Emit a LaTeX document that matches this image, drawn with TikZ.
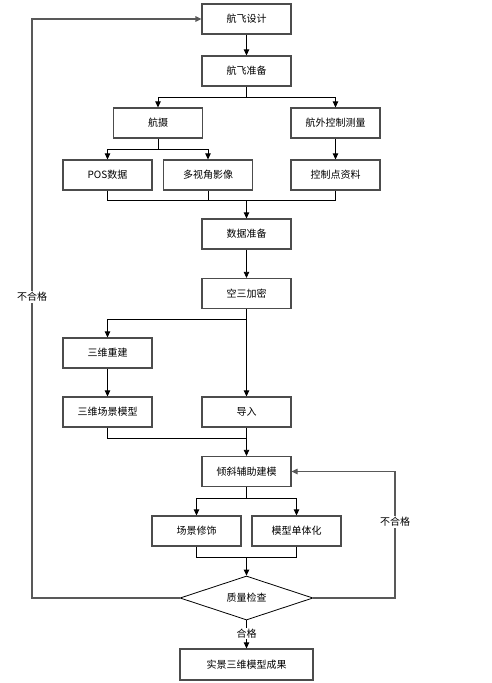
\documentclass[tikz,border=0pt]{standalone}
\usepackage{fontspec}
\setmainfont{Noto Sans CJK SC}
\usetikzlibrary{arrows.meta,shapes.geometric}
\begin{document}
\begin{tikzpicture}[x=1pt,y=-1pt,
  box/.style={draw=black!70,line width=1.2pt,fill=white,minimum width=89pt,minimum height=30pt,inner sep=0pt,font=\fontsize{10}{12}\selectfont},
  dia/.style={draw=black,line width=0.8pt,diamond,aspect=3,minimum width=133pt,minimum height=44pt,inner sep=0pt,font=\fontsize{10}{12}\selectfont},
  conn/.style={draw=black,line width=0.8pt},
  arr/.style={conn,-{Triangle[width=5.5pt,length=6pt]}},
  back/.style={draw=black!65,line width=1.2pt,-{Triangle[width=5.5pt,length=6pt]}},
  lbl/.style={fill=white,inner sep=1pt,font=\fontsize{10}{12}\selectfont}]
\useasboundingbox (0,0) rectangle (491,683);
\node[box] (a) at (246.5,19) {航飞设计};
\node[box] (b) at (246.5,71) {航飞准备};
\node[box] (c) at (158,123) {航摄};
\node[box] (d) at (335.5,123) {航外控制测量};
\node[box] (e) at (107.5,175) {POS数据};
\node[box] (f) at (208,175) {多视角影像};
\node[box] (g) at (335.5,175) {控制点资料};
\node[box] (h) at (246.5,234) {数据准备};
\node[box] (i) at (246.5,293.5) {空三加密};
\node[box] (j) at (107.5,353) {三维重建};
\node[box] (k) at (107.5,412) {三维场景模型};
\node[box] (l) at (246.5,412) {导入};
\node[box] (m) at (246.5,471.5) {倾斜辅助建模};
\node[box] (n) at (196.5,531) {场景修饰};
\node[box] (o) at (296.5,531) {模型单体化};
\node[dia] (q) at (246.5,598) {质量检查};
\node[box,minimum width=133pt,minimum height=31pt] (r) at (246.5,664.5) {实景三维模型成果};
\coordinate (b1) at (246.5,97);
\coordinate (c1) at (158,149);
\coordinate (g1) at (246.5,200);
\coordinate (i1) at (246.5,319);
\coordinate (k1) at (246.5,438);
\coordinate (m1) at (246.5,498);
\coordinate (o1) at (246.5,557);
\coordinate (qL) at (32,598);
\coordinate (qR) at (395,598);
\draw[arr] (a) -- (b);
\draw[conn] (b) -- (b1);
\draw[arr] (b1) -| (c);
\draw[arr] (b1) -| (d);
\draw[conn] (c) -- (c1);
\draw[arr] (c1) -| (e);
\draw[arr] (c1) -| (f);
\draw[arr] (d) -- (g);
\draw[conn] (e.south) |- (g1);
\draw[conn] (f.south) |- (g1);
\draw[conn] (g.south) |- (g1);
\draw[arr] (g1) -- (h);
\draw[arr] (h) -- (i);
\draw[conn] (i) -- (i1);
\draw[arr] (i1) -| (j);
\draw[arr] (i1) -- (l);
\draw[arr] (j) -- (k);
\draw[conn] (k.south) |- (k1);
\draw[arr] (l) -- (m);
\draw[conn] (m) -- (m1);
\draw[arr] (m1) -| (n);
\draw[arr] (m1) -| (o);
\draw[conn] (n.south) |- (o1);
\draw[conn] (o.south) |- (o1);
\draw[arr] (o1) -- (q.north);
\draw[arr] (q.south) -- node[lbl,pos=0.48] (hg) {合格} (r);
\draw[back] (q.west) -- (qL) |- node[lbl,pos=0.26] (bh1) {不合格} (a.west);
\draw[back] (q.east) -- (qR) |- node[lbl,pos=0.30] (bh2) {不合格} (m.east);
\end{tikzpicture}
\end{document}
